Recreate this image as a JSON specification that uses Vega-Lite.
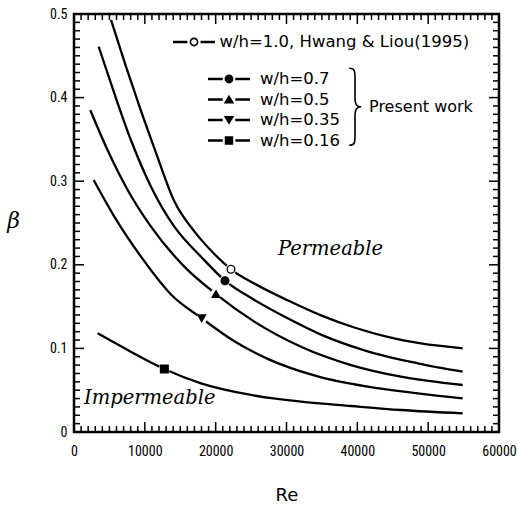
{
  "$schema": "https://vega.github.io/schema/vega-lite/v6.json",
  "width": 425,
  "height": 418,
  "autosize": {"type": "none"},
  "padding": {"left": 74, "top": 14, "right": 18, "bottom": 75},
  "background": "white",
  "config": {
    "view": {"stroke": "black", "strokeWidth": 2.5},
    "axis": {
      "domain": false, "grid": false, "ticks": false,
      "labelColor": "black", "labelFont": "Liberation Sans Narrow, Roboto Condensed, Liberation Sans, sans-serif",
      "labelFontSize": 14, "labelFlush": false, "titleColor": "black", "titleFontWeight": "normal"
    },
    "legend": {
      "labelFont": "DejaVu Sans", "labelFontSize": 16.5, "labelColor": "black", "labelLimit": 400,
      "symbolSize": 441, "padding": 0, "rowPadding": 0.5
    }
  },
  "datasets": {
    "curves": [
      {"series": "w/h=1.0, Hwang & Liou(1995)", "Re": 5224, "beta": 0.493},
      {"series": "w/h=1.0, Hwang & Liou(1995)", "Re": 7341, "beta": 0.437},
      {"series": "w/h=1.0, Hwang & Liou(1995)", "Re": 9459, "beta": 0.384},
      {"series": "w/h=1.0, Hwang & Liou(1995)", "Re": 11577, "beta": 0.334},
      {"series": "w/h=1.0, Hwang & Liou(1995)", "Re": 14165, "beta": 0.276},
      {"series": "w/h=1.0, Hwang & Liou(1995)", "Re": 16989, "beta": 0.240},
      {"series": "w/h=1.0, Hwang & Liou(1995)", "Re": 19812, "beta": 0.213},
      {"series": "w/h=1.0, Hwang & Liou(1995)", "Re": 22165, "beta": 0.1946},
      {"series": "w/h=1.0, Hwang & Liou(1995)", "Re": 25460, "beta": 0.1775},
      {"series": "w/h=1.0, Hwang & Liou(1995)", "Re": 30165, "beta": 0.1575},
      {"series": "w/h=1.0, Hwang & Liou(1995)", "Re": 34871, "beta": 0.1395},
      {"series": "w/h=1.0, Hwang & Liou(1995)", "Re": 39577, "beta": 0.125},
      {"series": "w/h=1.0, Hwang & Liou(1995)", "Re": 44283, "beta": 0.1138},
      {"series": "w/h=1.0, Hwang & Liou(1995)", "Re": 48989, "beta": 0.106},
      {"series": "w/h=1.0, Hwang & Liou(1995)", "Re": 54872, "beta": 0.1001},
      {"series": "w/h=0.7", "Re": 3483, "beta": 0.4609},
      {"series": "w/h=0.7", "Re": 5694, "beta": 0.405},
      {"series": "w/h=0.7", "Re": 8047, "beta": 0.349},
      {"series": "w/h=0.7", "Re": 10871, "beta": 0.2935},
      {"series": "w/h=0.7", "Re": 14165, "beta": 0.2456},
      {"series": "w/h=0.7", "Re": 17930, "beta": 0.2097},
      {"series": "w/h=0.7", "Re": 21318, "beta": 0.181},
      {"series": "w/h=0.7", "Re": 25460, "beta": 0.158},
      {"series": "w/h=0.7", "Re": 30165, "beta": 0.136},
      {"series": "w/h=0.7", "Re": 34871, "beta": 0.1165},
      {"series": "w/h=0.7", "Re": 41460, "beta": 0.0965},
      {"series": "w/h=0.7", "Re": 48518, "beta": 0.0822},
      {"series": "w/h=0.7", "Re": 54872, "beta": 0.0722},
      {"series": "w/h=0.5", "Re": 2306, "beta": 0.385},
      {"series": "w/h=0.5", "Re": 4753, "beta": 0.337},
      {"series": "w/h=0.5", "Re": 7577, "beta": 0.2895},
      {"series": "w/h=0.5", "Re": 10871, "beta": 0.2456},
      {"series": "w/h=0.5", "Re": 15577, "beta": 0.1978},
      {"series": "w/h=0.5", "Re": 20048, "beta": 0.165},
      {"series": "w/h=0.5", "Re": 25460, "beta": 0.132},
      {"series": "w/h=0.5", "Re": 32048, "beta": 0.102},
      {"series": "w/h=0.5", "Re": 39107, "beta": 0.0801},
      {"series": "w/h=0.5", "Re": 46166, "beta": 0.0662},
      {"series": "w/h=0.5", "Re": 54872, "beta": 0.0562},
      {"series": "w/h=0.35", "Re": 2776, "beta": 0.3014},
      {"series": "w/h=0.35", "Re": 5694, "beta": 0.2576},
      {"series": "w/h=0.35", "Re": 9459, "beta": 0.2097},
      {"series": "w/h=0.35", "Re": 13695, "beta": 0.1645},
      {"series": "w/h=0.35", "Re": 18024, "beta": 0.136},
      {"series": "w/h=0.35", "Re": 22636, "beta": 0.1085},
      {"series": "w/h=0.35", "Re": 27350, "beta": 0.0875},
      {"series": "w/h=0.35", "Re": 34401, "beta": 0.0665},
      {"series": "w/h=0.35", "Re": 41460, "beta": 0.0542},
      {"series": "w/h=0.35", "Re": 48518, "beta": 0.0463},
      {"series": "w/h=0.35", "Re": 54872, "beta": 0.0403},
      {"series": "w/h=0.16", "Re": 3341, "beta": 0.118},
      {"series": "w/h=0.16", "Re": 7577, "beta": 0.0981},
      {"series": "w/h=0.16", "Re": 12754, "beta": 0.0754},
      {"series": "w/h=0.16", "Re": 17930, "beta": 0.0582},
      {"series": "w/h=0.16", "Re": 24989, "beta": 0.0443},
      {"series": "w/h=0.16", "Re": 32048, "beta": 0.0363},
      {"series": "w/h=0.16", "Re": 39107, "beta": 0.0311},
      {"series": "w/h=0.16", "Re": 46166, "beta": 0.0263},
      {"series": "w/h=0.16", "Re": 54872, "beta": 0.0223}
    ],
    "markers": [
      {"series": "w/h=1.0, Hwang & Liou(1995)", "Re": 22165, "beta": 0.1946},
      {"series": "w/h=0.7", "Re": 21318, "beta": 0.181},
      {"series": "w/h=0.5", "Re": 20048, "beta": 0.165},
      {"series": "w/h=0.35", "Re": 18024, "beta": 0.136},
      {"series": "w/h=0.16", "Re": 12754, "beta": 0.0754}
    ],
    "notes": [
      {"note": "Permeable", "Re": 28800, "beta": 0.219},
      {"note": "Impermeable", "Re": 1410, "beta": 0.0407},
      {"note": "brace", "Re": 39670, "beta": 0.389},
      {"note": "Present work", "Re": 41650, "beta": 0.3885}
    ],
    "xticks": [
      {"Re": 0, "kind": "major"}, {"Re": 1000, "kind": "minor"}, {"Re": 2000, "kind": "minor"}, {"Re": 3000, "kind": "minor"}, {"Re": 4000, "kind": "minor"}, {"Re": 5000, "kind": "minor"}, {"Re": 6000, "kind": "minor"}, {"Re": 7000, "kind": "minor"}, {"Re": 8000, "kind": "minor"}, {"Re": 9000, "kind": "minor"},
      {"Re": 10000, "kind": "major"}, {"Re": 11000, "kind": "minor"}, {"Re": 12000, "kind": "minor"}, {"Re": 13000, "kind": "minor"}, {"Re": 14000, "kind": "minor"}, {"Re": 15000, "kind": "minor"}, {"Re": 16000, "kind": "minor"}, {"Re": 17000, "kind": "minor"}, {"Re": 18000, "kind": "minor"}, {"Re": 19000, "kind": "minor"},
      {"Re": 20000, "kind": "major"}, {"Re": 21000, "kind": "minor"}, {"Re": 22000, "kind": "minor"}, {"Re": 23000, "kind": "minor"}, {"Re": 24000, "kind": "minor"}, {"Re": 25000, "kind": "minor"}, {"Re": 26000, "kind": "minor"}, {"Re": 27000, "kind": "minor"}, {"Re": 28000, "kind": "minor"}, {"Re": 29000, "kind": "minor"},
      {"Re": 30000, "kind": "major"}, {"Re": 31000, "kind": "minor"}, {"Re": 32000, "kind": "minor"}, {"Re": 33000, "kind": "minor"}, {"Re": 34000, "kind": "minor"}, {"Re": 35000, "kind": "minor"}, {"Re": 36000, "kind": "minor"}, {"Re": 37000, "kind": "minor"}, {"Re": 38000, "kind": "minor"}, {"Re": 39000, "kind": "minor"},
      {"Re": 40000, "kind": "major"}, {"Re": 41000, "kind": "minor"}, {"Re": 42000, "kind": "minor"}, {"Re": 43000, "kind": "minor"}, {"Re": 44000, "kind": "minor"}, {"Re": 45000, "kind": "minor"}, {"Re": 46000, "kind": "minor"}, {"Re": 47000, "kind": "minor"}, {"Re": 48000, "kind": "minor"}, {"Re": 49000, "kind": "minor"},
      {"Re": 50000, "kind": "major"}, {"Re": 51000, "kind": "minor"}, {"Re": 52000, "kind": "minor"}, {"Re": 53000, "kind": "minor"}, {"Re": 54000, "kind": "minor"}, {"Re": 55000, "kind": "minor"}, {"Re": 56000, "kind": "minor"}, {"Re": 57000, "kind": "minor"}, {"Re": 58000, "kind": "minor"}, {"Re": 59000, "kind": "minor"},
      {"Re": 60000, "kind": "major"}
    ],
    "yticks": [
      {"beta": 0, "kind": "major"}, {"beta": 0.01, "kind": "minor"}, {"beta": 0.02, "kind": "minor"}, {"beta": 0.03, "kind": "minor"}, {"beta": 0.04, "kind": "minor"}, {"beta": 0.05, "kind": "minor"}, {"beta": 0.06, "kind": "minor"}, {"beta": 0.07, "kind": "minor"}, {"beta": 0.08, "kind": "minor"}, {"beta": 0.09, "kind": "minor"},
      {"beta": 0.1, "kind": "major"}, {"beta": 0.11, "kind": "minor"}, {"beta": 0.12, "kind": "minor"}, {"beta": 0.13, "kind": "minor"}, {"beta": 0.14, "kind": "minor"}, {"beta": 0.15, "kind": "minor"}, {"beta": 0.16, "kind": "minor"}, {"beta": 0.17, "kind": "minor"}, {"beta": 0.18, "kind": "minor"}, {"beta": 0.19, "kind": "minor"},
      {"beta": 0.2, "kind": "major"}, {"beta": 0.21, "kind": "minor"}, {"beta": 0.22, "kind": "minor"}, {"beta": 0.23, "kind": "minor"}, {"beta": 0.24, "kind": "minor"}, {"beta": 0.25, "kind": "minor"}, {"beta": 0.26, "kind": "minor"}, {"beta": 0.27, "kind": "minor"}, {"beta": 0.28, "kind": "minor"}, {"beta": 0.29, "kind": "minor"},
      {"beta": 0.3, "kind": "major"}, {"beta": 0.31, "kind": "minor"}, {"beta": 0.32, "kind": "minor"}, {"beta": 0.33, "kind": "minor"}, {"beta": 0.34, "kind": "minor"}, {"beta": 0.35, "kind": "minor"}, {"beta": 0.36, "kind": "minor"}, {"beta": 0.37, "kind": "minor"}, {"beta": 0.38, "kind": "minor"}, {"beta": 0.39, "kind": "minor"},
      {"beta": 0.4, "kind": "major"}, {"beta": 0.41, "kind": "minor"}, {"beta": 0.42, "kind": "minor"}, {"beta": 0.43, "kind": "minor"}, {"beta": 0.44, "kind": "minor"}, {"beta": 0.45, "kind": "minor"}, {"beta": 0.46, "kind": "minor"}, {"beta": 0.47, "kind": "minor"}, {"beta": 0.48, "kind": "minor"}, {"beta": 0.49, "kind": "minor"},
      {"beta": 0.5, "kind": "major"}
    ]
  },
  "layer": [
    {
      "data": {"name": "curves"},
      "mark": {"type": "line", "color": "black", "strokeWidth": 2.3, "interpolate": "monotone"},
      "encoding": {
        "x": {"field": "Re", "type": "quantitative", "scale": {"domain": [0, 60000]},
          "axis": {"orient": "bottom", "values": [0, 10000, 20000, 30000, 40000, 50000, 60000], "format": "d",
            "labelPadding": 12, "title": "Re", "titleFont": "DejaVu Sans", "titleFontSize": 18, "titleY": 63, "titleBaseline": "middle"}},
        "y": {"field": "beta", "type": "quantitative", "scale": {"domain": [0, 0.5]},
          "axis": {"orient": "left", "values": [0, 0.1, 0.2, 0.3, 0.4, 0.5], "format": "~g",
            "labelPadding": 7, "title": "β", "titleFont": "DejaVu Serif", "titleFontStyle": "italic",
            "titleFontSize": 22, "titleAngle": 0, "titleX": -61, "titleY": 206, "titleAlign": "center", "titleBaseline": "middle"}},
        "detail": {"field": "series"}
      }
    },
    {
      "data": {"name": "xticks"},
      "mark": {"type": "point", "shape": "M0,0L0,-1", "filled": false, "stroke": "black", "strokeWidth": 1.5, "opacity": 1},
      "encoding": {
        "x": {"field": "Re", "type": "quantitative", "axis": null},
        "y": {"datum": 0, "type": "quantitative", "axis": null},
        "size": {"field": "kind", "type": "nominal", "legend": null, "scale": {"type": "ordinal", "domain": ["minor", "major"], "range": [144, 400]}}
      }
    },
    {
      "data": {"name": "xticks"},
      "mark": {"type": "point", "shape": "M0,0L0,1", "filled": false, "stroke": "black", "strokeWidth": 1.5, "opacity": 1},
      "encoding": {
        "x": {"field": "Re", "type": "quantitative", "axis": null},
        "y": {"datum": 0.5, "type": "quantitative", "axis": null},
        "size": {"field": "kind", "type": "nominal", "legend": null, "scale": {"type": "ordinal", "domain": ["minor", "major"], "range": [144, 400]}}
      }
    },
    {
      "data": {"name": "yticks"},
      "mark": {"type": "point", "shape": "M0,0L1,0", "filled": false, "stroke": "black", "strokeWidth": 1.5, "opacity": 1},
      "encoding": {
        "y": {"field": "beta", "type": "quantitative", "axis": null},
        "x": {"datum": 0, "type": "quantitative", "axis": null},
        "size": {"field": "kind", "type": "nominal", "legend": null, "scale": {"type": "ordinal", "domain": ["minor", "major"], "range": [144, 400]}}
      }
    },
    {
      "data": {"name": "yticks"},
      "mark": {"type": "point", "shape": "M0,0L-1,0", "filled": false, "stroke": "black", "strokeWidth": 1.5, "opacity": 1},
      "encoding": {
        "y": {"field": "beta", "type": "quantitative", "axis": null},
        "x": {"datum": 60000, "type": "quantitative", "axis": null},
        "size": {"field": "kind", "type": "nominal", "legend": null, "scale": {"type": "ordinal", "domain": ["minor", "major"], "range": [144, 400]}}
      }
    },
    {
      "data": {"name": "markers"},
      "mark": {"type": "point", "filled": true, "fill": "white", "size": 120, "opacity": 1, "strokeWidth": 0},
      "encoding": {
        "x": {"field": "Re", "type": "quantitative", "axis": null},
        "y": {"field": "beta", "type": "quantitative", "axis": null}
      }
    },
    {
      "data": {"name": "markers"},
      "mark": {"type": "point", "filled": true, "stroke": "black", "strokeWidth": 1.3, "opacity": 1, "size": 60},
      "encoding": {
        "x": {"field": "Re", "type": "quantitative", "axis": null},
        "y": {"field": "beta", "type": "quantitative", "axis": null},
        "shape": {"field": "series", "type": "nominal", "legend": null,
          "scale": {"domain": ["w/h=1.0, Hwang & Liou(1995)", "w/h=0.7", "w/h=0.5", "w/h=0.35", "w/h=0.16"],
            "range": ["circle", "circle", "triangle-up", "triangle-down", "square"]}},
        "fill": {"field": "series", "type": "nominal", "legend": null,
          "scale": {"domain": ["w/h=1.0, Hwang & Liou(1995)", "w/h=0.7", "w/h=0.5", "w/h=0.35", "w/h=0.16"],
            "range": ["white", "black", "black", "black", "black"]}}
      }
    },
    {
      "data": {"name": "markers"},
      "transform": [{"filter": "false"}],
      "mark": {"type": "point", "filled": true, "fill": "black", "opacity": 1},
      "encoding": {
        "x": {"field": "Re", "type": "quantitative", "axis": null},
        "y": {"field": "beta", "type": "quantitative", "axis": null},
        "shape": {"field": "series", "type": "nominal",
          "scale": {"domain": ["w/h=1.0, Hwang & Liou(1995)"],
            "range": ["M-2,-0.11L-0.62,-0.11L-0.62,0.11L-2,0.11ZM0.62,-0.11L2,-0.11L2,0.11L0.62,0.11ZM-0.42,0A0.42,0.42,0,1,1,0.42,0A0.42,0.42,0,1,1,-0.42,0ZM-0.27,0A0.27,0.27,0,1,0,0.27,0A0.27,0.27,0,1,0,-0.27,0Z"]},
          "legend": {"orient": "none", "legendX": 108.5, "legendY": 16.5, "title": null, "labelOffset": 14,
            "symbolFillColor": "black", "symbolOpacity": 1}}
      }
    },
    {
      "data": {"name": "markers"},
      "transform": [{"filter": "false"}],
      "mark": {"type": "point", "filled": true, "fill": "black", "opacity": 1},
      "encoding": {
        "x": {"field": "Re", "type": "quantitative", "axis": null},
        "y": {"field": "beta", "type": "quantitative", "axis": null},
        "shape": {"field": "series", "type": "nominal",
          "scale": {"domain": ["w/h=0.7", "w/h=0.5", "w/h=0.35", "w/h=0.16"],
            "range": [
              "M-2,-0.12L-0.6,-0.12L-0.6,0.12L-2,0.12ZM0.6,-0.12L2,-0.12L2,0.12L0.6,0.12ZM-0.42,0A0.42,0.42,0,1,1,0.42,0A0.42,0.42,0,1,1,-0.42,0Z",
              "M-2,-0.12L-0.6,-0.12L-0.6,0.12L-2,0.12ZM0.6,-0.12L2,-0.12L2,0.12L0.6,0.12ZM0,-0.46L0.5,0.38L-0.5,0.38Z",
              "M-2,-0.12L-0.6,-0.12L-0.6,0.12L-2,0.12ZM0.6,-0.12L2,-0.12L2,0.12L0.6,0.12ZM0,0.46L0.5,-0.38L-0.5,-0.38Z",
              "M-2,-0.12L-0.6,-0.12L-0.6,0.12L-2,0.12ZM0.6,-0.12L2,-0.12L2,0.12L0.6,0.12ZM-0.4,-0.4L0.4,-0.4L0.4,0.4L-0.4,0.4Z"
            ]},
          "legend": {"orient": "none", "legendX": 143.5, "legendY": 53.5, "title": null, "labelOffset": 19.5,
            "symbolFillColor": "black", "symbolOpacity": 1}}
      }
    },
    {
      "data": {"name": "notes"},
      "transform": [{"filter": "datum.note == 'Permeable' || datum.note == 'Impermeable'"}],
      "mark": {"type": "text", "font": "DejaVu Serif", "fontStyle": "italic", "fontSize": 19.5, "align": "left", "baseline": "middle", "color": "black"},
      "encoding": {
        "x": {"field": "Re", "type": "quantitative", "axis": null},
        "y": {"field": "beta", "type": "quantitative", "axis": null},
        "text": {"field": "note"}
      }
    },
    {
      "data": {"name": "notes"},
      "transform": [{"filter": "datum.note == 'Present work'"}],
      "mark": {"type": "text", "font": "DejaVu Sans", "fontSize": 16, "align": "left", "baseline": "middle", "color": "black"},
      "encoding": {
        "x": {"field": "Re", "type": "quantitative", "axis": null},
        "y": {"field": "beta", "type": "quantitative", "axis": null},
        "text": {"field": "note"}
      }
    },
    {
      "data": {"name": "notes"},
      "transform": [{"filter": "datum.note == 'brace'"}],
      "mark": {"type": "point", "filled": false, "stroke": "black", "strokeWidth": 1.6, "opacity": 1, "size": 5929,
        "shape": "M-0.15,-1C0.02,-1,0,-0.9,0,-0.6L0,-0.25C0,-0.05,0.05,0,0.16,0C0.05,0,0,0.05,0,0.25L0,0.6C0,0.9,0.02,1,-0.15,1"},
      "encoding": {
        "x": {"field": "Re", "type": "quantitative", "axis": null},
        "y": {"field": "beta", "type": "quantitative", "axis": null}
      }
    }
  ],
  "resolve": {
    "axis": {"x": "independent", "y": "independent"},
    "scale": {"shape": "independent", "fill": "independent", "size": "independent"},
    "legend": {"shape": "independent"}
  }
}
